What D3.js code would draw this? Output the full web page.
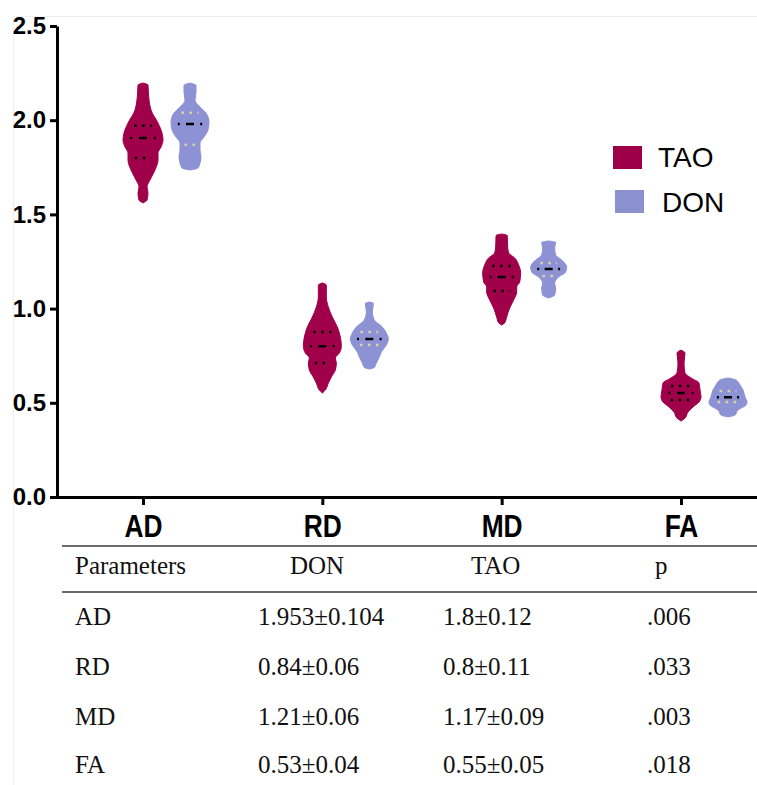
<!DOCTYPE html>
<html>
<head>
<meta charset="utf-8">
<script src="https://cdnjs.cloudflare.com/ajax/libs/d3/7.8.5/d3.min.js"></script>
<style>
body { margin: 0; background: #fff; }
svg { display: block; }
</style>
</head>
<body>
<div id="chart"></div>
<script>
const categories = ["AD", "RD", "MD", "FA"];
const groups = ["TAO", "DON"];
const yTicks = [0, 0.5, 1.0, 1.5, 2.0, 2.5];

// violin outlines: [value, relative density] (top to bottom)
const taoProfiles = [
    [[2.197, 0], [2.187, 0.25], [2.144, 0.27], [2.054, 0.4], [1.985, 0.75], [1.932, 0.95], [1.895, 1.0], [1.858, 0.9], [1.826, 0.75], [1.789, 0.75], [1.736, 0.6], [1.683, 0.35], [1.646, 0.2], [1.614, 0.25], [1.576, 0.2], [1.561, 0]],
    [[1.136, 0], [1.125, 0.2], [1.062, 0.2], [1.008, 0.3], [0.955, 0.5], [0.902, 0.75], [0.849, 0.9], [0.802, 0.95], [0.764, 0.85], [0.738, 0.65], [0.711, 0.7], [0.674, 0.65], [0.637, 0.45], [0.605, 0.3], [0.568, 0.15], [0.552, 0]],
    [[1.396, 0], [1.388, 0.28], [1.327, 0.3], [1.295, 0.35], [1.269, 0.65], [1.231, 0.85], [1.189, 0.95], [1.141, 0.9], [1.115, 0.75], [1.088, 0.75], [1.046, 0.6], [1.003, 0.4], [0.955, 0.25], [0.924, 0.15], [0.913, 0]],
    [[0.780, 0], [0.764, 0.2], [0.711, 0.15], [0.658, 0.2], [0.632, 0.5], [0.605, 0.9], [0.568, 0.95], [0.531, 1.0], [0.504, 0.9], [0.478, 0.6], [0.451, 0.35], [0.419, 0.2], [0.403, 0]]
];
const donProfiles = [
    [[2.197, 0], [2.185, 0.3], [2.15, 0.3], [2.107, 0.25], [2.070, 0.5], [2.038, 0.8], [1.990, 0.95], [1.948, 0.9], [1.911, 0.7], [1.879, 0.5], [1.842, 0.5], [1.805, 0.55], [1.773, 0.5], [1.746, 0.4], [1.736, 0]],
    [[1.035, 0], [1.028, 0.2], [0.982, 0.15], [0.939, 0.25], [0.902, 0.65], [0.870, 0.85], [0.839, 0.95], [0.807, 0.85], [0.770, 0.6], [0.743, 0.5], [0.711, 0.35], [0.688, 0.25], [0.679, 0]],
    [[1.359, 0], [1.351, 0.35], [1.322, 0.3], [1.285, 0.35], [1.258, 0.65], [1.221, 0.9], [1.194, 0.85], [1.168, 0.5], [1.136, 0.3], [1.109, 0.35], [1.072, 0.3], [1.056, 0]],
    [[0.632, 0], [0.621, 0.4], [0.594, 0.6], [0.568, 0.75], [0.531, 0.85], [0.504, 0.95], [0.488, 0.9], [0.462, 0.5], [0.435, 0.35], [0.425, 0]]
];
// [q1, median, q3]
const taoQuartiles = [[1.80, 1.905, 1.97], [0.711, 0.80, 0.876], [1.093, 1.168, 1.226], [0.515, 0.552, 0.589]];
const donQuartiles = [[1.87, 1.98, 2.04], [0.807, 0.838, 0.876], [1.173, 1.21, 1.242], [0.504, 0.53, 0.563]];

const tableHeader = ["Parameters", "DON", "TAO", "p"];
const tableParams = ["AD", "RD", "MD", "FA"];
const tableDon = ["1.953±0.104", "0.84±0.06", "1.21±0.06", "0.53±0.04"];
const tableTao = ["1.8±0.12", "0.8±0.11", "1.17±0.09", "0.55±0.05"];
const tableP = [".006", ".033", ".003", ".018"];

const width = 757;
const height = 785;
const colors = { TAO: "#a0004a", DON: "#8c92d4" };
const legendColors = { TAO: "#9e0048", DON: "#8b90d0" };
const quartileDot = { TAO: "#000", DON: "#d9d4a8" };

const svg = d3.select("#chart")
    .append("svg")
    .attr("width", width)
    .attr("height", height);

// faint figure frame
svg.append("path")
    .attr("d", `M13.5,${height}V16.5H${width}`)
    .attr("fill", "none")
    .attr("stroke", "#eeeeee");

const y = d3.scaleLinear().domain([0, 2.5]).range([497, 26]);
const x = d3.scalePoint().domain(categories).range([143, 681]);
const xg = d3.scalePoint().domain(groups).range([0, 47]);
const w = d3.scaleLinear().domain([0, 1]).range([0, 20]);

function widthAt(profile, v) {
    for (let i = 0; i < profile.length - 1; i++) {
        const a = profile[i], b = profile[i + 1];
        if (v <= a[0] && v >= b[0]) {
            const t = (a[0] - v) / (a[0] - b[0]);
            return a[1] + t * (b[1] - a[1]);
        }
    }
    return 0;
}

function drawViolins(group, profiles, quartiles) {
    categories.forEach((cat, i) => {
        const cx = x(cat) + xg(group);
        const profile = profiles[i];
        const area = d3.area()
            .curve(d3.curveMonotoneY)
            .y(d => y(d[0]))
            .x0(d => cx - w(d[1]))
            .x1(d => cx + w(d[1]));

        svg.append("path")
            .datum(profile)
            .attr("d", area)
            .attr("fill", colors[group])
            .attr("stroke", colors[group])
            .attr("stroke-width", 1);

        const [q1, med, q3] = quartiles[i];
        [q1, q3].forEach(q => {
            const hw = w(widthAt(profile, q)) * 0.55;
            svg.append("line")
                .attr("x1", cx - hw).attr("x2", cx + hw)
                .attr("y1", y(q)).attr("y2", y(q))
                .attr("stroke", quartileDot[group])
                .attr("stroke-width", 2.5)
                .attr("stroke-dasharray", "2.5,5.5");
        });

        const mw = w(widthAt(profile, med)) * 0.65;
        const gap = Math.max(1, (2 * mw - 12) / 2);
        svg.append("line")
            .attr("x1", cx - mw).attr("x2", cx + mw)
            .attr("y1", y(med)).attr("y2", y(med))
            .attr("stroke", "#000")
            .attr("stroke-width", 2.5)
            .attr("stroke-dasharray", `2,${gap},8,${gap},2`);
    });
}

drawViolins("TAO", taoProfiles, taoQuartiles);
drawViolins("DON", donProfiles, donQuartiles);

// y axis
const yAxis = svg.append("g")
    .attr("transform", "translate(57,0)")
    .call(d3.axisLeft(y).tickValues(yTicks).tickFormat(d3.format(".1f"))
        .tickSize(7).tickSizeOuter(0).tickPadding(4));
yAxis.select(".domain").attr("stroke-width", 3);
yAxis.selectAll(".tick line").attr("stroke-width", 3);
yAxis.selectAll(".tick text")
    .attr("fill", "#000")
    .style("font-family", "'Liberation Sans', Arial, sans-serif")
    .style("font-weight", "bold")
    .style("font-size", "24px");

// x axis
const xAxis = svg.append("g")
    .attr("transform", `translate(0,${y(0)})`)
    .call(d3.axisBottom(x).tickSize(8).tickSizeOuter(0).tickPadding(10));
xAxis.select(".domain").remove();
xAxis.append("line")
    .attr("x1", 55.5).attr("x2", width)
    .attr("y1", 0.5).attr("y2", 0.5)
    .attr("stroke", "#000")
    .attr("stroke-width", 3);
xAxis.selectAll(".tick line").attr("stroke-width", 3);
xAxis.selectAll(".tick text")
    .attr("fill", "#000")
    .attr("transform", "scale(0.85,1)")
    .style("font-family", "'Liberation Sans', Arial, sans-serif")
    .style("font-weight", "bold")
    .style("font-size", "31px");

// legend
const legend = svg.append("g");
const legendRows = [
    { key: "TAO", rx: 613, ry: 146, tx: 658, ty: 167 },
    { key: "DON", rx: 615, ry: 190, tx: 662, ty: 212 }
];
legendRows.forEach(r => {
    legend.append("rect")
        .attr("x", r.rx).attr("y", r.ry)
        .attr("width", 29).attr("height", 23)
        .attr("fill", legendColors[r.key]);
    legend.append("text")
        .attr("x", r.tx).attr("y", r.ty)
        .text(r.key)
        .style("font-family", "'Liberation Sans', Arial, sans-serif")
        .style("font-size", "28px")
        .attr("fill", "#000");
});

// table
const table = svg.append("g")
    .style("font-family", "'Liberation Serif', 'Times New Roman', serif")
    .style("font-size", "25px")
    .attr("fill", "#111");

[546, 592].forEach(ly => {
    table.append("line")
        .attr("x1", 62).attr("x2", width)
        .attr("y1", ly).attr("y2", ly)
        .attr("stroke", "#6b6b6b")
        .attr("stroke-width", 2);
});

const headerX = [75, 290, 471, 655];
tableHeader.forEach((h, i) => {
    table.append("text").attr("x", headerX[i]).attr("y", 574).text(h);
});

const colX = [75, 258, 443, 647];
const rowY = [625, 675, 725, 773];
const columns = [tableParams, tableDon, tableTao, tableP];
columns.forEach((col, c) => {
    col.forEach((val, r) => {
        table.append("text").attr("x", colX[c]).attr("y", rowY[r]).text(val);
    });
});
</script>
</body>
</html>
